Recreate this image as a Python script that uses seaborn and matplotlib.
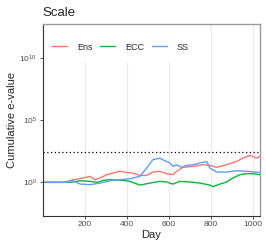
import numpy as np
import pandas as pd
import matplotlib
matplotlib.use("Agg")
import matplotlib.pyplot as plt
import seaborn as sns
from matplotlib.patches import Rectangle
from matplotlib.ticker import NullLocator

sns.set_theme(style="white")
plt.rcParams['font.family'] = ['Liberation Sans', 'DejaVu Sans']

# Values (day, log10 cumulative e-value)
ens_days = [1, 100, 146, 192, 225, 249, 273, 305, 335, 368, 400, 430, 463, 495,
            525, 558, 590, 620, 638, 668, 717, 763, 796, 829, 876, 924, 954, 987,
            1019, 1035]
ens_log10 = [0, 0, 0.21, 0.35, 0.48, 0.21, 0.35, 0.62, 0.75, 0.89, 0.80, 0.75,
             0.56, 0.56, 0.83, 0.89, 0.70, 0.62, 0.89, 1.21, 1.29, 1.42, 1.37,
             1.21, 1.42, 1.69, 1.96, 2.17, 1.96, 2.09]

ecc_days = [1, 100, 146, 178, 225, 265, 287, 320, 352, 382, 415, 463, 511, 558,
            590, 620, 653, 701, 749, 796, 811, 844, 876, 906, 940, 971, 1001, 1035]
ecc_log10 = [0, 0, 0.03, 0.13, 0.08, 0, 0.16, 0.21, 0.19, 0.16, 0.08, -0.22,
             -0.06, 0.08, 0.03, -0.14, 0.08, 0.03, -0.06, -0.22, -0.35, -0.14,
             0.03, 0.35, 0.62, 0.70, 0.70, 0.62]

ss_days = [1, 100, 146, 178, 225, 273, 320, 368, 415, 463, 495, 525, 558, 582,
           606, 620, 638, 662, 686, 717, 749, 781, 796, 829, 876, 924, 971, 1035]
ss_log10 = [0, 0, 0.13, -0.14, -0.19, -0.06, 0.13, 0.21, 0.29, 0.48, 1.15, 1.83,
            1.95, 1.74, 1.56, 1.29, 1.42, 1.21, 1.37, 1.42, 1.56, 1.68, 1.15,
            0.83, 0.83, 0.94, 0.89, 0.80]

methods = ["Ens", "ECC", "SS"]
colors = {"Ens": "#F8766D", "ECC": "#00BA38", "SS": "#619CFF"}
threshold = 280

df = pd.concat([
    pd.DataFrame({"day": ens_days, "evalue": 10 ** np.array(ens_log10), "method": "Ens"}),
    pd.DataFrame({"day": ecc_days, "evalue": 10 ** np.array(ecc_log10), "method": "ECC"}),
    pd.DataFrame({"day": ss_days, "evalue": 10 ** np.array(ss_log10), "method": "SS"}),
])

fig = plt.figure(figsize=(2.66, 2.5), dpi=100)
ax = fig.add_axes([0.1605, 0.1372, 0.8169, 0.7668])

sns.lineplot(data=df, x="day", y="evalue", hue="method", hue_order=methods,
             palette=colors, estimator=None, linewidth=1.0, ax=ax)

ax.set_yscale("log")
ax.set_ylim(10 ** -2.69, 10 ** 12.77)
ax.set_xlim(0, 1035)
ax.axhline(threshold, color="black", linestyle=(0, (1, 2)), linewidth=0.9)

ax.set_yticks([1, 1e5, 1e10])
ax.yaxis.set_minor_locator(NullLocator())
ax.set_xticks([200, 400, 600, 800, 1000])

# vertical grid only
ax.set_axisbelow(True)
ax.xaxis.grid(True, color="#EBEBEB", linewidth=0.9)
ax.yaxis.grid(False)

# legend background hides the grid behind it
ax.add_patch(Rectangle((0, 0.802), 0.687, 0.198, transform=ax.transAxes,
                       facecolor="white", edgecolor="none", zorder=1))

handles, labels = ax.get_legend_handles_labels()
ax.legend(handles, labels, ncol=3, loc="upper left",
          bbox_to_anchor=(52 / 266, 1 - 42.5 / 250), bbox_transform=fig.transFigure,
          frameon=False, fontsize=6.5, handlelength=1.7, handletextpad=1.1,
          columnspacing=0.8, borderpad=0, borderaxespad=0)

for side in ["left", "bottom"]:
    ax.spines[side].set_color("#333333")
    ax.spines[side].set_linewidth(0.8)
for side in ["top", "right"]:
    ax.spines[side].set_color("#9A9A9A")
    ax.spines[side].set_linewidth(1.0)

ax.tick_params(axis="both", bottom=True, left=True, direction="out", length=2.5,
               width=0.6, color="#333333", labelsize=6, labelcolor="#4D4D4D", pad=1.5)

ax.set_xlabel("Day", fontsize=8, labelpad=1)
ax.set_ylabel("Cumulative e-value", fontsize=8, labelpad=2)
ax.set_title("Scale", loc="left", fontsize=9.5, pad=6)

fig.savefig("out.png", dpi=100)
